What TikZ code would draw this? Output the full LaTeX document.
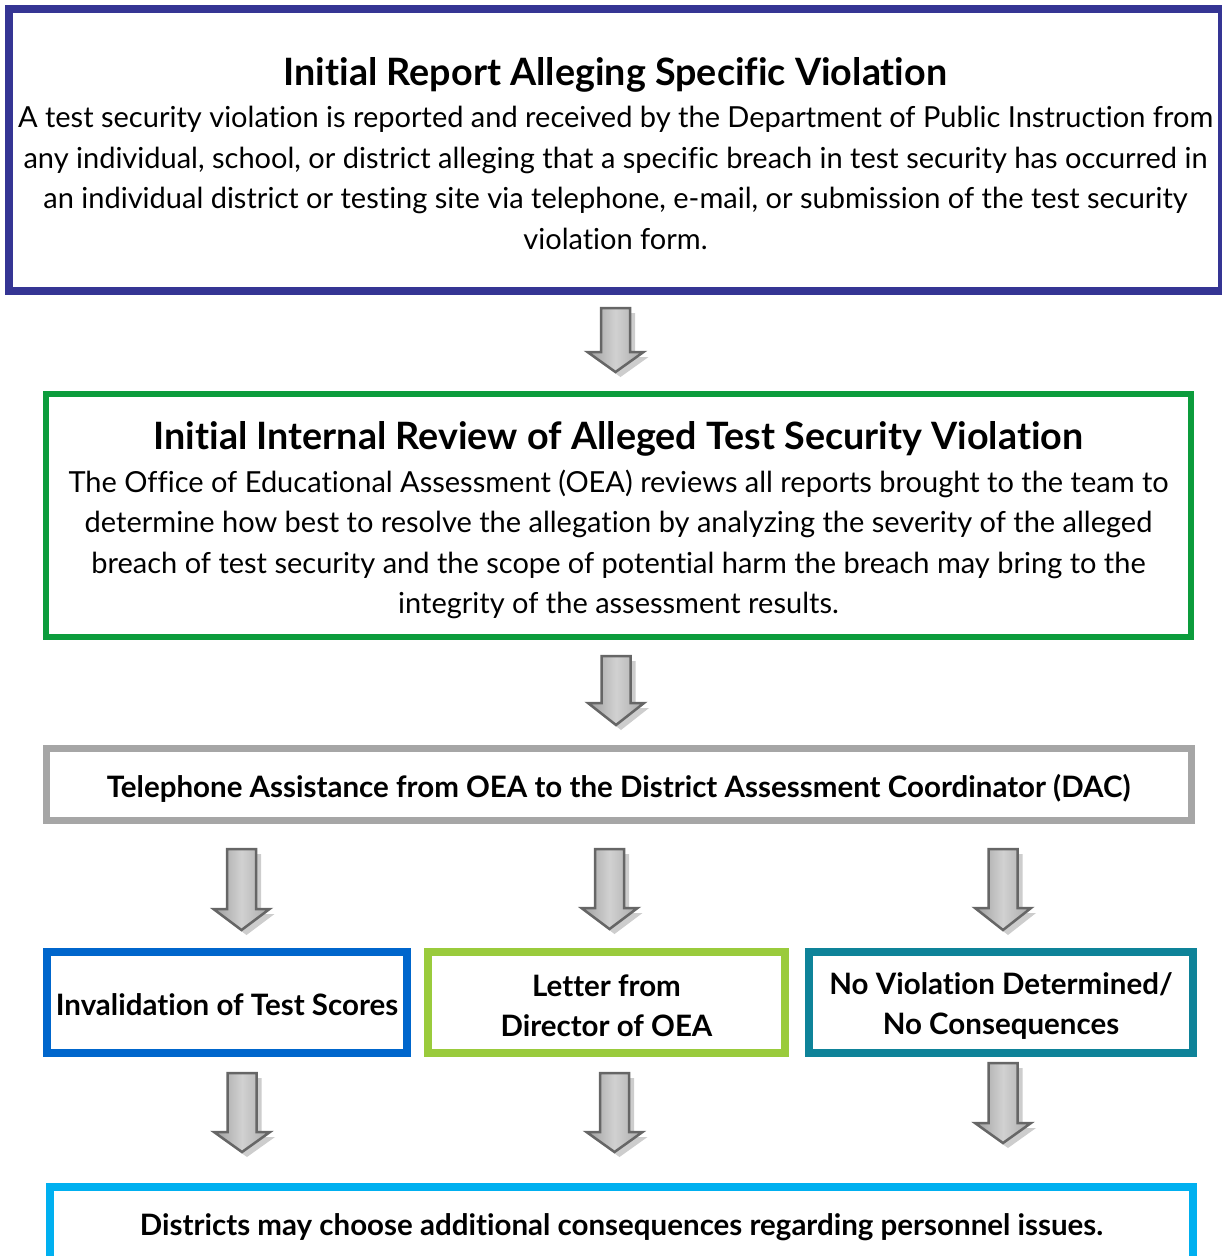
\documentclass[tikz,border=0pt]{standalone}
\usepackage{fontspec}
\setmainfont{Lato}[Ligatures=NoCommon]
\usetikzlibrary{calc}
\definecolor{cReport}{HTML}{353594}
\definecolor{cReview}{HTML}{0C9C3C}
\definecolor{cPhone}{HTML}{A6A6A6}
\definecolor{cInval}{HTML}{0066CC}
\definecolor{cLetter}{HTML}{9ACB3C}
\definecolor{cNoViol}{HTML}{0E8399}
\definecolor{cDistrict}{HTML}{00B0F0}
\definecolor{arrowEdge}{HTML}{666666}
\definecolor{arrowShade}{HTML}{C4C4C4}
\newcommand\titlefont{\fontsize{37.7}{44}\selectfont\bfseries}
\tikzset{
  flowbox/.style={draw, rectangle, fill=white, inner sep=0pt},
  boxtext/.style={align=center, inner sep=0pt},
  bodytext/.style={boxtext, font=\fontsize{29}{40.5}\selectfont},
  headtext/.style={boxtext, font=\fontsize{29.5}{40.5}\selectfont\bfseries},
  arrowbody/.style={draw=arrowEdge, line width=2.5pt, line join=miter,
    left color=black!38, right color=black!34, middle color=black!18},
  arrowshadow/.style={fill=arrowShade, opacity=0.85},
}
% block arrow: centre x, shaft top, head start, tip
\newcommand\blockarrow[4]{%
  \fill[arrowshadow] (#1-9.5,#2+5) -- (#1+19.5,#2+5) -- (#1+19.5,#3+5)
    -- (#1+33,#3+5) -- (#1+5,#4+5) -- (#1-23,#3+5)
    -- (#1-9.5,#3+5) -- cycle;
  \path[arrowbody] (#1-14.5,#2) -- (#1+14.5,#2) -- (#1+14.5,#3) -- (#1+28,#3)
    -- (#1,#4) -- (#1-28,#3) -- (#1-14.5,#3) -- cycle;
}
\begin{document}
\begin{tikzpicture}[x=1pt, y=-1pt]
\useasboundingbox (0,0) rectangle (1222,1256);

% frames
\node[flowbox, draw=cReport, line width=8pt, minimum width=1213pt, minimum height=282pt]
  (report) at (615.5,150) {};
\node[flowbox, draw=cReview, line width=6pt, minimum width=1145pt, minimum height=243pt]
  (review) at (618.5,515.5) {};
\node[flowbox, draw=cPhone, line width=7pt, minimum width=1145pt, minimum height=72pt]
  (phone) at (618.5,784) {};
\node[flowbox, draw=cInval, line width=8pt, minimum width=360pt, minimum height=101pt]
  (inval) at (227,1002.5) {};
\node[flowbox, draw=cLetter, line width=8pt, minimum width=357pt, minimum height=101pt]
  (letter) at (606.5,1002.5) {};
\node[flowbox, draw=cNoViol, line width=8pt, minimum width=384pt, minimum height=101pt]
  (noviol) at (1001,1002.5) {};
\node[flowbox, draw=cDistrict, line width=8pt, minimum width=1143pt, minimum height=76pt]
  (district) at (621.5,1225) {};

% texts
\node[bodytext] (reportText) at ([yshift=-3.5pt]report.center) {%
  \titlefont Initial Report Alleging Specific Violation\\[2pt]
  A test security violation is reported and received by the Department of Public Instruction from\\
  any individual, school, or district alleging that a specific breach in test security has occurred in\\
  an individual district or testing site via telephone, e-mail, or submission of the test security\\
  violation form.};
\node[bodytext] (reviewText) at ([yshift=-5pt]review.center) {%
  \titlefont Initial Internal Review of Alleged Test Security Violation\\[2pt]
  The Office of Educational Assessment (OEA) reviews all reports brought to the team to\\
  determine how best to resolve the allegation by analyzing the severity of the alleged\\
  breach of test security and the scope of potential harm the breach may bring to the\\
  integrity of the assessment results.};
\node[headtext] (phoneText) at ([yshift=-4pt]phone.center)
  {Telephone Assistance from OEA to the District Assessment Coordinator (DAC)};
\node[headtext] (invalText) at ([yshift=-2.5pt]inval.center) {Invalidation of Test Scores};
\node[headtext] (letterText) at ([yshift=-3.5pt]letter.center) {Letter from\\Director of OEA};
\node[headtext] (noviolText) at ([yshift=-3.5pt]noviol.center) {No Violation Determined/\\No Consequences};
\node[headtext] (districtText) at ([yshift=-2.5pt]district.center)
  {Districts may choose additional consequences regarding personnel issues.};

% block arrows between the steps
\blockarrow{615.5}{308}{352}{372}
\blockarrow{616}{656}{703}{725}
\blockarrow{241.5}{849}{909}{930}
\blockarrow{609.5}{849}{908}{929}
\blockarrow{1003}{849}{908}{930}
\blockarrow{242}{1073}{1132}{1152}
\blockarrow{614.5}{1073}{1132}{1152}
\blockarrow{1003}{1063}{1123}{1143}
\end{tikzpicture}
\end{document}
